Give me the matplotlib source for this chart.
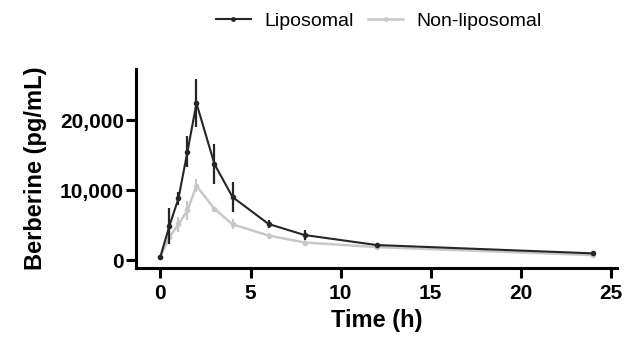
import numpy as np
import matplotlib
matplotlib.use('Agg')
import matplotlib.pyplot as plt
from matplotlib.lines import Line2D

plt.rcParams['font.family'] = ['Liberation Sans', 'DejaVu Sans']

time_h = [0, 0.5, 1, 1.5, 2, 3, 4, 6, 8, 12, 24]
lipo_mean = [500, 4900, 8800, 15500, 22400, 13700, 9000, 5150, 3570, 2140, 950]
lipo_err = [150, 2600, 950, 2200, 3400, 2900, 2100, 600, 650, 200, 400]
nonlipo_mean = [500, 3300, 5100, 7100, 10600, 7300, 5100, 3500, 2500, 1850, 700]
nonlipo_err = [150, 900, 1100, 1400, 950, 300, 700, 300, 500, 200, 250]

dark = '#262626'
light = '#c8c8c8'

fig = plt.figure(figsize=(6.26, 3.45), dpi=100)
ax = fig.add_axes([0.218, 0.222, 0.768, 0.578])

ax.errorbar(time_h, nonlipo_mean, yerr=nonlipo_err, color=light, lw=1.8,
            marker='o', ms=3, elinewidth=1.6, capsize=0, zorder=2)
ax.errorbar(time_h, lipo_mean, yerr=lipo_err, color=dark, lw=1.5,
            marker='o', ms=3, elinewidth=1.6, capsize=0, zorder=3)

ax.set_xlim(-1.33, 25.35)
ax.set_ylim(-1200, 27300)
ax.set_xticks([0, 5, 10, 15, 20, 25])
ax.set_yticks([0, 10000, 20000])
ax.set_yticklabels(['0', '10,000', '20,000'])

for side in ['top', 'right']:
    ax.spines[side].set_visible(False)
for side in ['left', 'bottom']:
    ax.spines[side].set_linewidth(2.2)
ax.tick_params(width=2.2, length=7.5, labelsize=15)
ax.tick_params(axis='y', pad=1.5)
ax.tick_params(axis='x', pad=4)
for lbl in ax.get_xticklabels() + ax.get_yticklabels():
    lbl.set_fontweight('bold')

ax.set_xlabel('Time (h)', fontsize=17, fontweight='bold', labelpad=4)
ax.set_ylabel('Berberine (pg/mL)', fontsize=17, fontweight='bold', labelpad=9)

handles = [Line2D([], [], color=dark, lw=1.5, marker='o', ms=2.5),
           Line2D([], [], color=light, lw=1.8, marker='o', ms=2.5)]
fig.legend(handles, ['Liposomal', 'Non-liposomal'], loc='upper center', bbox_to_anchor=(0.605, 1.015),
           ncols=2, frameon=False, fontsize=14, handlelength=1.8, columnspacing=0.75,
           handletextpad=0.7)

fig.savefig('out.png', dpi=100)
